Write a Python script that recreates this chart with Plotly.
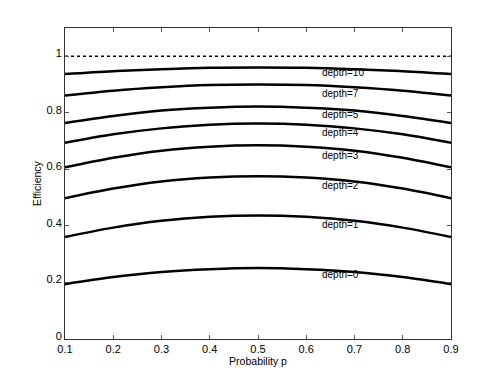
import plotly.graph_objects as go

# probability values along the x axis
p_values = [0.1, 0.2, 0.3, 0.4, 0.5, 0.6, 0.7, 0.8, 0.9]

# efficiency per depth (symmetric around p=0.5)
eff_depth0 = [0.194, 0.219, 0.237, 0.247, 0.251, 0.247, 0.237, 0.219, 0.194]
eff_depth1 = [0.361, 0.394, 0.418, 0.432, 0.437, 0.432, 0.418, 0.394, 0.361]
eff_depth2 = [0.498, 0.532, 0.557, 0.571, 0.576, 0.571, 0.557, 0.532, 0.498]
eff_depth3 = [0.607, 0.641, 0.666, 0.680, 0.685, 0.680, 0.666, 0.641, 0.607]
eff_depth4 = [0.694, 0.724, 0.745, 0.758, 0.762, 0.758, 0.745, 0.724, 0.694]
eff_depth5 = [0.764, 0.789, 0.808, 0.818, 0.822, 0.818, 0.808, 0.789, 0.764]
eff_depth7 = [0.861, 0.878, 0.890, 0.898, 0.900, 0.898, 0.890, 0.878, 0.861]
eff_depth10 = [0.937, 0.947, 0.954, 0.959, 0.960, 0.959, 0.954, 0.947, 0.937]
ideal = [1, 1, 1, 1, 1, 1, 1, 1, 1]

curve_names = ["depth=0", "depth=1", "depth=2", "depth=3",
               "depth=4", "depth=5", "depth=7", "depth=10"]
curves = [eff_depth0, eff_depth1, eff_depth2, eff_depth3,
          eff_depth4, eff_depth5, eff_depth7, eff_depth10]

# where the text labels sit
label_x = 0.628
label_y = [0.227, 0.404, 0.542, 0.649, 0.732, 0.793, 0.870, 0.941]

x_ticks = [0.1, 0.2, 0.3, 0.4, 0.5, 0.6, 0.7, 0.8, 0.9]
y_ticks = [0, 0.2, 0.4, 0.6, 0.8, 1]
y_tick_text = ["0", "0.2", "0.4", "0.6", "0.8", "1"]

FONT = "Liberation Sans, Arial, sans-serif"

fig = go.Figure()

fig.add_trace(go.Scatter(
    x=p_values, y=ideal, mode="lines",
    line=dict(color="black", width=1.5, dash="dot"),
    showlegend=False,
))

for name, vals in zip(curve_names, curves):
    fig.add_trace(go.Scatter(
        x=p_values, y=vals, mode="lines", name=name,
        line=dict(color="black", width=2.5, shape="spline", smoothing=1.0),
        showlegend=False,
    ))

for name, ly in zip(curve_names, label_y):
    fig.add_annotation(
        x=label_x, y=ly, text=name, showarrow=False,
        xanchor="left", yanchor="middle",
        font=dict(family=FONT, size=10, color="black"),
    )

# the page body has an 8px margin, so the figure is a bit smaller than the window
fig.update_layout(
    width=490, height=374,
    margin=dict(l=57, r=47, t=20, b=43),
    plot_bgcolor="white",
    paper_bgcolor="white",
    font=dict(family=FONT, size=10, color="black"),
)

fig.update_xaxes(
    range=[0.1, 0.9], tickvals=x_ticks, ticktext=[str(v) for v in x_ticks],
    ticks="inside", ticklen=4, tickcolor="#555", tickwidth=1,
    showline=True, linecolor="#333", linewidth=1, mirror="ticks",
    showgrid=False, zeroline=False,
    title=dict(text="Probability p", standoff=2, font=dict(size=10.5)),
    tickfont=dict(size=11),
)
fig.update_yaxes(
    range=[0, 1.1], tickvals=y_ticks, ticktext=y_tick_text,
    ticks="inside", ticklen=4, tickcolor="#555", tickwidth=1,
    showline=True, linecolor="#333", linewidth=1, mirror="ticks",
    showgrid=False, zeroline=False,
    title=dict(text="Efficiency", standoff=2, font=dict(size=10.5)),
    tickfont=dict(size=11), ticklabelshift=-3,
)

fig.write_html("out.html")
